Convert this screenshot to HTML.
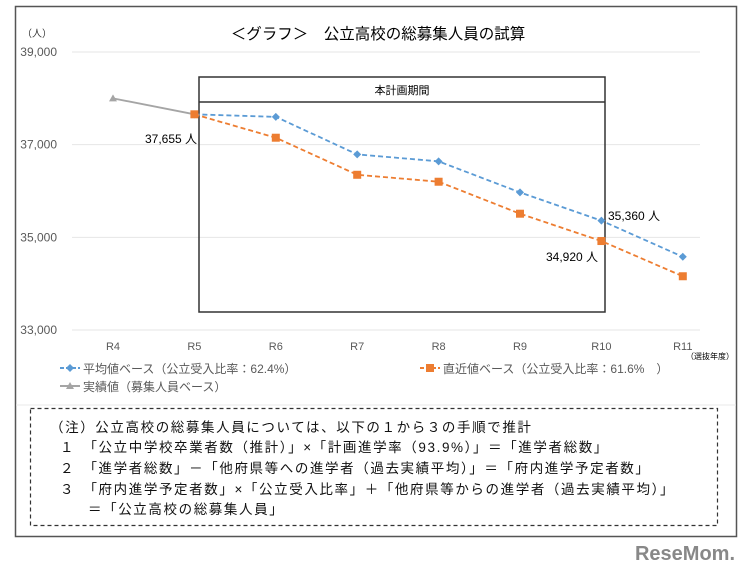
<!DOCTYPE html>
<html><head><meta charset="utf-8">
<style>
body{margin:0;background:#fff;width:752px;height:568px;overflow:hidden;font-family:"Liberation Sans","Noto Sans CJK JP",sans-serif;}
svg text{font-family:"Liberation Sans","Noto Sans CJK JP",sans-serif;}
</style></head><body>
<svg id="chart" width="752" height="568" xmlns="http://www.w3.org/2000/svg">
<rect x="15.5" y="6.5" width="721" height="530" fill="#fff" stroke="#555" stroke-width="1.5"/>
<line x1="16" y1="405" x2="736" y2="405" stroke="#e8e8e8"/>
<text x="378" y="39" font-size="15.5" text-anchor="middle" fill="#000">＜グラフ＞　公立高校の総募集人員の試算</text>
<text x="22" y="37" font-size="10" fill="#333">（人）</text>
<g id="grid"></g>
<rect x="199" y="77" width="406" height="235" fill="none" stroke="#333" stroke-width="1.5"/>
<line x1="199" y1="102" x2="605" y2="102" stroke="#333" stroke-width="1.5"/>
<text x="402" y="94" font-size="11" text-anchor="middle">本計画期間</text>
<g id="series"></g>
<text x="145" y="143" font-size="12">37,655 人</text>
<text x="608" y="220" font-size="12">35,360 人</text>
<text x="546" y="261" font-size="12">34,920 人</text>
<text x="686" y="359" font-size="8">（選抜年度）</text>
<g>
<line x1="60" y1="368" x2="80" y2="368" stroke="#5b9bd5" stroke-width="2" stroke-dasharray="4,2"/>
<path d="M70 364 L74 368 L70 372 L66 368Z" fill="#5b9bd5"/>
<text x="83" y="373" font-size="12" fill="#595959">平均値ベース（公立受入比率：62.4%）</text></g>
<g>
<line x1="420" y1="368" x2="440" y2="368" stroke="#ed7d31" stroke-width="2" stroke-dasharray="4,2"/>
<rect x="426" y="364" width="8" height="8" fill="#ed7d31"/>
<text x="443" y="373" font-size="12" fill="#595959">直近値ベース（公立受入比率：61.6%　）</text></g>
<g>
<line x1="60" y1="386" x2="80" y2="386" stroke="#a5a5a5" stroke-width="2"/>
<path d="M70 382 L74 389 L66 389Z" fill="#a5a5a5"/>
<text x="83" y="391" font-size="12" fill="#595959">実績値（募集人員ベース）</text></g>
<rect x="30.5" y="408.5" width="687" height="117" fill="none" stroke="#333" stroke-width="1.2" stroke-dasharray="4,3"/>
<g font-size="13.5" fill="#111" letter-spacing="1.6">
<text x="50" y="432">（注）公立高校の総募集人員については、以下の１から３の手順で推計</text>
<text x="60" y="452">１　「公立中学校卒業者数（推計）」×「計画進学率（93.9%）」＝「進学者総数」</text>
<text x="60" y="473">２　「進学者総数」－「他府県等への進学者（過去実績平均）」＝「府内進学予定者数」</text>
<text x="60" y="494">３　「府内進学予定者数」×「公立受入比率」＋「他府県等からの進学者（過去実績平均）」</text>
<text x="88" y="514">＝「公立高校の総募集人員」</text>
</g>
<text x="735" y="560" font-size="20" font-weight="bold" fill="#888" text-anchor="end">ReseMom.</text>
</svg>
<script>
const categories=["R4","R5","R6","R7","R8","R9","R10","R11"];
const yTicks=[33000,35000,37000,39000];
const actual=[38000,37655,null,null,null,null,null,null];
const average=[null,37655,37600,36790,36640,35970,35360,34580];
const recent=[null,37655,37150,36350,36200,35510,34920,34160];
const NS="http://www.w3.org/2000/svg";
const x=i=>113+i*81.4;
const y=v=>330-(v-33000)*(278/6000);
function mk(t,a,p){const e=document.createElementNS(NS,t);for(const k in a)e.setAttribute(k,a[k]);p.appendChild(e);return e;}
const grid=document.getElementById('grid');
yTicks.forEach(v=>{
 const l=mk('line',{x1:72,x2:700,y1:y(v),y2:y(v),stroke:'#e6e6e6'},grid);
 
 
 const t=mk('text',{x:57,y:y(v)+4,'font-size':12,'text-anchor':'end',fill:'#595959'},grid);
 t.textContent=v.toLocaleString('en-US');
 
 
});
categories.forEach((c,i)=>{
 const t=mk('text',{x:x(i),y:350,'font-size':11,'text-anchor':'middle',fill:'#595959'},grid);
 t.textContent=c;
 
 
});
const sg=document.getElementById('series');
function series(vals,color,dash,marker,name){
 const pts=vals.map((v,i)=>v==null?null:[x(i),y(v)]).filter(p=>p);
 const pl=mk('polyline',{points:pts.map(p=>p.join(',')).join(' '),fill:'none',stroke:color,'stroke-width':1.8},sg);
 if(dash)pl.setAttribute('stroke-dasharray',dash);
 
 
 pts.forEach(p=>{
  let m;
  if(marker==='d')m=mk('path',{d:`M${p[0]} ${p[1]-4}L${p[0]+4} ${p[1]}L${p[0]} ${p[1]+4}L${p[0]-4} ${p[1]}Z`,fill:color},sg);
  else if(marker==='s')m=mk('rect',{x:p[0]-4,y:p[1]-4,width:8,height:8,fill:color},sg);
  else m=mk('path',{d:`M${p[0]} ${p[1]-4}L${p[0]+4} ${p[1]+3}L${p[0]-4} ${p[1]+3}Z`,fill:color},sg);
  
  
 });
}
series(actual,'#a5a5a5',null,'t','actual');
series(average,'#5b9bd5','5,3','d','average');
series(recent,'#ed7d31','5,3','s','recent');
</script>
</body></html>
